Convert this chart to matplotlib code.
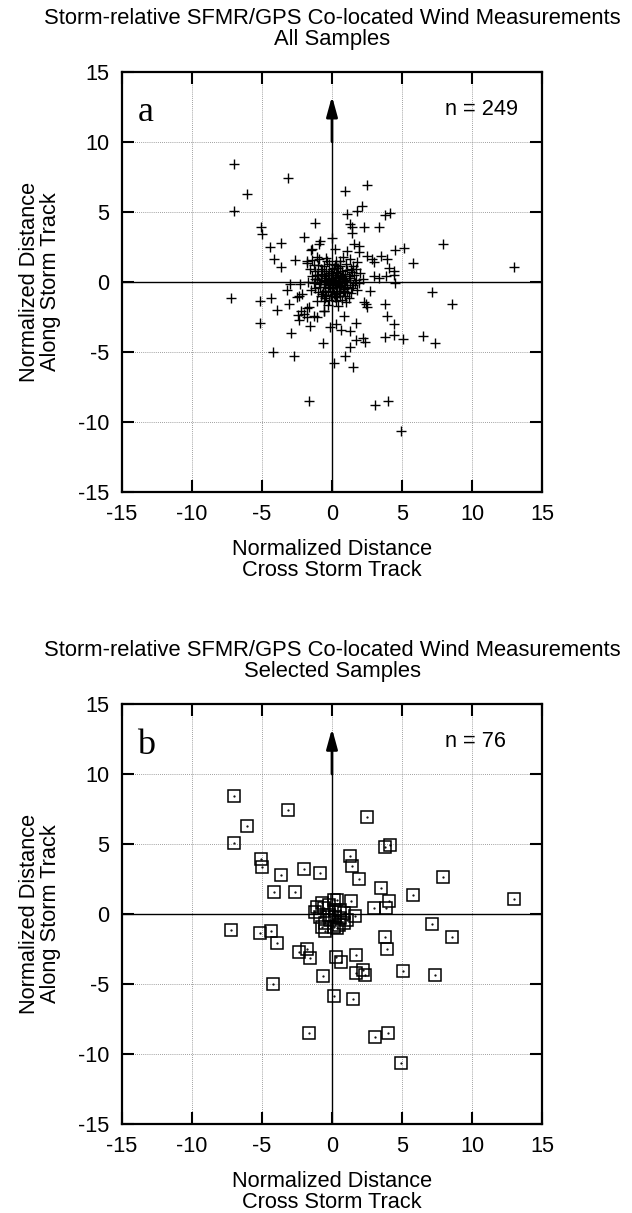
import matplotlib
matplotlib.use('Agg')
from matplotlib import pyplot as plt

plt.rcParams['font.family'] = ['Liberation Sans', 'DejaVu Sans']
plt.rcParams['axes.unicode_minus'] = False

# Selected samples (panel b) - these are also part of panel a
sel_x = [-7.0, -3.17, -6.1, -7.02, 2.48, 3.81, 4.12, -5.07, -5.0, -3.62, -1.98, -0.83, 1.29, 1.43, 1.9,
         -4.12, -2.64, 3.48, 4.07, 7.95, 5.81, 1.36, 2.98, 3.83, 1.62, 7.12, 8.6, -7.24, -5.14, -4.36,
         -3.95, 3.81, 3.95, -2.36, -1.79, -1.57, 0.29, 0.64, 1.69, 1.69, 2.19, 2.33, 5.05, 7.33, -0.62,
         -4.19, 0.14, 1.52, -1.64, 3.07, 4.02, 4.95, 13.0,
         -1.07, -0.71, -0.55, 0.12, 0.36, -0.24, 0.6, 0.83, 0.24, -0.12, -0.48, -0.71, -0.48, 0.12,
         0.48, 0.83, 1.07, 0.36, -0.83, -1.19, -0.24, 0.6, 0.24]
sel_y = [8.43, 7.43, 6.26, 5.05, 6.9, 4.76, 4.9, 3.93, 3.38, 2.79, 3.19, 2.9, 4.12, 3.45, 2.52,
         1.6, 1.55, 1.83, 0.95, 2.66, 1.33, 0.9, 0.4, 0.4, -0.12, -0.71, -1.62, -1.14, -1.38, -1.19,
         -2.05, -1.62, -2.48, -2.74, -2.5, -3.14, -3.05, -3.45, -2.93, -4.19, -4.0, -4.33, -4.07, -4.38, -4.4,
         -5.02, -5.83, -6.1, -8.5, -8.79, -8.52, -10.67, 1.05,
         0.48, 0.76, 0.4, 1.0, 1.0, 0.64, 0.29, 0.05, -0.19, -0.43, -0.67, -0.9, -1.19, -0.9,
         -0.79, -0.67, -0.43, -1.02, -0.19, 0.17, -0.07, -0.31, 0.29]

# Remaining samples only in panel a (outer scatter)
extra_x = [0.95, 2.14, 1.79, 1.07, 1.43, 2.26, 3.33, -1.19, 0.0, -4.45, -1.43, -0.95, -3.62, -1.79,
           -1.43, -1.07, 0.24, 1.07, 1.9, 2.5, 2.86, 3.93, 4.5, 5.12, 4.4, 4.52, 2.74, 3.33, 1.55,
           2.98, 4.4, -5.12, -2.93, -2.74, -3.21, -2.26, -2.38, -3.1, -2.5, -2.98, -2.14, -1.67,
           -1.07, -0.6, -2.2, -2.0, -1.8, -2.4, -1.31, -1.07, -0.55, -0.12, 0.95, 1.26, 1.31, 0.83,
           2.45, 4.4, 3.81, 4.4, 6.5, 2.26, 2.5, -1.5, -1.79]
extra_y = [6.5, 5.43, 5.07, 4.83, 3.88, 3.88, 3.88, 4.2, 3.15, 2.45, 2.33, 2.67, 1.02, 1.33,
           1.57, 1.74, 2.33, 2.21, 2.1, 1.86, 1.62, 1.62, 2.3, 2.38, 0.5, -0.12, -0.64, 0.26, 2.69,
           1.38, 0.79, -2.95, -3.69, -5.29, -0.6, -0.17, -1.0, -1.6, -1.12, -0.17, -0.88, -1.83,
           -1.36, -2.07, -2.1, -2.3, -1.9, -2.4, -2.43, -2.5, -2.12, -3.26, -5.33, -4.69, -3.5, -2.43,
           -1.6, -3.02, -3.98, -3.8, -3.86, -1.48, -1.83, 2.26, 1.5]

# Dense core of panel a near the storm centre
core_x = [-0.9, -0.4, 0.3, 0.8, 1.3, -1.3,
          -1.0, -0.6, -0.2, 0.2, 0.6, 1.0, 1.5, 1.8,
          -1.2, -0.8, -0.4, 0.0, 0.4, 0.7, 1.1, 1.4, -0.1,
          -1.4, -1.0, -0.7, -0.3, 0.1, 0.35, 0.6, 0.9, 1.2, 1.6, 2.0,
          -1.1, -0.8, -0.5, -0.2, 0.05, 0.3, 0.55, 0.8, 1.0, 1.3, 1.7,
          -1.3, -0.9, -0.6, -0.3, 0.0, 0.2, 0.45, 0.7, 0.95, 1.25, 1.5, 1.9,
          -1.2, -0.85, -0.5, -0.15, 0.1, 0.35, 0.6, 0.85, 1.1, 1.4,
          -1.0, -0.65, -0.3, 0.0, 0.25, 0.5, 0.8, 1.05, 1.35,
          -0.8, -0.45, -0.1, 0.2, 0.55, 0.9, 1.2,
          -0.6, -0.2, 0.3, 0.7, 1.0,
          0.15, 0.4, -0.05, 0.25, 0.5, -0.25, 0.65, 0.1, -0.45, 0.8,
          -1.6, -1.5, 1.7, 1.8, -0.35, 0.55, 2.2, -1.7, 0.4, -0.3]
core_y = [1.6, 1.7, 1.5, 1.8, 1.6, 1.2,
          1.2, 1.1, 1.3, 1.2, 1.1, 1.3, 1.1, 1.4,
          0.8, 0.9, 0.8, 0.9, 0.95, 0.8, 0.85, 0.7, 0.6,
          0.4, 0.5, 0.55, 0.45, 0.5, 0.6, 0.45, 0.55, 0.4, 0.5, 0.6,
          0.2, 0.15, 0.25, 0.2, 0.3, 0.15, 0.25, 0.2, 0.1, 0.25, 0.15,
          -0.1, -0.05, -0.15, -0.05, -0.1, -0.15, -0.05, -0.1, -0.2, -0.05, -0.25, -0.1,
          -0.45, -0.35, -0.4, -0.35, -0.45, -0.35, -0.4, -0.5, -0.35, -0.45,
          -0.7, -0.75, -0.65, -0.7, -0.8, -0.65, -0.75, -0.7, -0.8,
          -1.05, -0.95, -1.0, -1.1, -1.0, -1.05, -1.15,
          -1.35, -1.3, -1.4, -1.3, -1.45,
          0.05, 0.35, 0.15, 0.7, 0.0, -0.25, -0.25, -0.25, 0.05, 0.4,
          0.9, -0.6, 0.9, -0.6, 1.45, 1.45, 0.2, 0.0, -1.7, -1.65]

all_x = sel_x + extra_x + core_x
all_y = sel_y + extra_y + core_y

title_main = 'Storm-relative SFMR/GPS Co-located Wind Measurements'
ticks = [-15, -10, -5, 0, 5, 10, 15]
fs = 15.7

fig = plt.figure(figsize=(6.32, 12.13), dpi=100)
H = 1213.0


def setup_panel(ax, letter, count):
    ax.set_xlim(-15, 15)
    ax.set_ylim(-15, 15)
    ax.set_xticks(ticks)
    ax.set_yticks(ticks)
    ax.grid(True, linestyle=(0, (1, 1.5)), color='0.5', linewidth=0.6)
    ax.axhline(0, color='black', lw=1.0, zorder=2)
    ax.plot([0, 0], [-15, 10], color='black', lw=1.0, zorder=2)
    ax.annotate('', xy=(0, 13.25), xytext=(0, 10),
                arrowprops=dict(arrowstyle='-|>,head_length=0.8,head_width=0.22', lw=2,
                                color='black', shrinkA=0, shrinkB=0, mutation_scale=15))
    ax.tick_params(direction='in', length=8.5, width=1.5, top=True, right=True,
                   labelsize=fs, pad=9)
    for sp in ax.spines.values():
        sp.set_linewidth(1.6)
    ax.set_xlabel('Normalized Distance\nCross Storm Track', fontsize=fs, labelpad=10, linespacing=1.0)
    ax.set_ylabel('Normalized Distance\nAlong Storm Track', fontsize=fs, labelpad=12, linespacing=1.05)
    ax.text(-13.9, 11.45, letter, family='Liberation Serif', fontsize=26, ha='left', va='baseline')
    ax.text(8.05, 11.9, count, fontsize=fs, ha='left', va='baseline')


# Panel a: all samples
ax1 = fig.add_axes([122 / 632, 1 - 491.7 / H, 420 / 632, 420 / H])
setup_panel(ax1, 'a', 'n = 249')
ax1.plot(all_x, all_y, '+', color='black', markersize=7.5, markeredgewidth=1.0, zorder=3)
fig.text(332 / 632, 1 - 19 / H, title_main, ha='center', va='center', fontsize=15.8)
fig.text(332 / 632, 1 - 40 / H, 'All Samples', ha='center', va='center', fontsize=15.8)

# Panel b: selected samples
ax2 = fig.add_axes([122 / 632, 1 - 1124 / H, 420 / 632, 420 / H])
setup_panel(ax2, 'b', 'n = 76')
ax2.plot(sel_x, sel_y, 's', markerfacecolor='none', markeredgecolor='black',
         markersize=8.5, markeredgewidth=1.1, zorder=3)
ax2.plot(sel_x, sel_y, '.', color='black', markersize=1.2, zorder=3)
fig.text(332 / 632, 1 - 651 / H, title_main, ha='center', va='center', fontsize=15.8)
fig.text(332 / 632, 1 - 672 / H, 'Selected Samples', ha='center', va='center', fontsize=15.8)

fig.savefig('out.png', dpi=100)
